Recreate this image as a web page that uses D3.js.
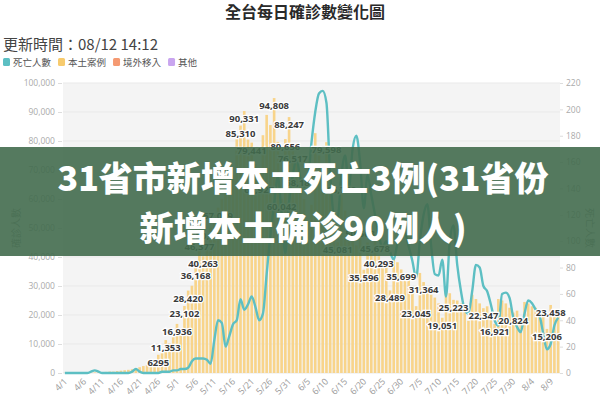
<!DOCTYPE html>
<html>
<head>
<meta charset="utf-8">
<script src="https://cdn.jsdelivr.net/npm/d3@7"></script>
<style>
  body { margin: 0; background: #fff; }
  svg { display: block; font-family: "Noto Sans CJK TC", "Noto Sans", sans-serif; }
</style>
</head>
<body>
<div id="chart"></div>
<script>
const WIDTH = 600;
const HEIGHT = 402;

const LEFT = 63;
const RIGHT = 560;
const TOP = 83;
const BOTTOM = 373;

// daily local cases 4/1 .. 8/11
const CASES = [
  40, 50, 55, 90, 70, 80, 120, 150, 200, 250,
  280, 380, 500, 480, 650, 800, 950, 1100, 1300, 1600,
  2000, 2400, 2700, 3000, 3500, 6295, 7800, 11353, 10200, 13000,
  16936, 15100, 23102, 28420, 30100, 36168, 46377, 40263, 43200, 50054,
  54600, 57039, 60100, 62800, 65300, 68200, 81000, 85310, 90331, 80500,
  79441, 72000, 65927, 82000, 89000, 85500, 94808, 79700, 60042, 80656,
  88247, 76517, 72000, 68187, 60000, 52000, 58000, 82700, 75000, 70000,
  79598, 65000, 55000, 45081, 65749, 56000, 52000, 48000, 44000, 50563,
  35596, 45000, 42000, 45678, 40293, 38000, 36500, 28489, 39000, 38200,
  35699, 34000, 33000, 30000, 23045, 34500, 31364, 29500, 27000, 26000,
  24000, 19051, 29000, 27500, 25223, 25000, 24000, 23500, 18000, 27000,
  25500, 24000, 22347, 23000, 21000, 16921, 25500, 25000, 24000, 22500,
  20824, 21500, 17500, 24500, 24000, 23000, 22500, 21500, 20500, 15206,
  23458, 22000, 21500
];

// daily deaths, same days
const DEATHS = [
  0, 0, 0, 0, 0, 0, 0, 1, 2, 1,
  0, 0, 0, 0, 0, 0, 0, 0, 1, 3,
  1, 0, 0, 0, 0, 0, 1, 1, 1, 2,
  2, 3, 3, 4, 9, 11, 11, 11, 10, 7,
  25, 40, 38, 20, 28, 37, 40, 56, 48, 52,
  58, 50, 40, 45, 75, 105, 128, 149, 120, 91,
  130, 150, 162, 148, 141, 146, 175, 198, 212, 214,
  205, 150, 120, 118, 150, 165, 140, 170, 180, 160,
  125, 150, 135, 120, 105, 95, 100, 92, 86, 98,
  104, 106, 96, 85, 72, 100, 120, 128, 97, 75,
  74, 86, 58, 100, 112, 82, 62, 48, 45, 62,
  82, 80, 66, 62, 52, 40, 36, 60, 61, 57,
  42, 35, 31, 45, 55, 53, 48, 44, 30, 18,
  22, 36, 42
];

const LABEL_DAYS = [
  '4/26', '4/28', '5/1', '5/3', '5/4', '5/6', '5/7', '5/8', '5/10', '5/12',
  '5/18', '5/19', '5/21', '5/23', '5/27', '5/29', '5/30', '5/31', '6/1', '6/3',
  '6/10', '6/13', '6/14', '6/19', '6/20', '6/23', '6/24', '6/27', '6/30',
  '7/4', '7/6', '7/11', '7/14', '7/22', '7/25', '7/30', '8/8', '8/9'
];

const X_TICKS = [
  '4/1', '4/6', '4/11', '4/16', '4/21', '4/26', '5/1', '5/6', '5/11', '5/16',
  '5/21', '5/26', '5/31', '6/5', '6/10', '6/15', '6/20', '6/25', '6/30', '7/5',
  '7/10', '7/15', '7/20', '7/25', '7/30', '8/4', '8/9'
];
const CASE_TICKS = [0, 10000, 20000, 30000, 40000, 50000, 60000, 70000, 80000, 90000, 100000];
const DEATH_TICKS = [0, 20, 40, 60, 80, 100, 120, 140, 160, 180, 200, 220];

const LEGEND = [
  { name: '死亡人數', color: '#5dbfc3' },
  { name: '本土案例', color: '#f7cb6e' },
  { name: '境外移入', color: '#f59a72' },
  { name: '其他', color: '#c9a5ef' }
];

const BANNER_LINES = ['31省市新增本土死亡3例(31省份', '新增本土确诊90例人)'];

const fmtDay = d3.utcFormat('%-m/%-d');
const days = d3.utcDay.range(new Date(Date.UTC(2022, 3, 1)), new Date(Date.UTC(2022, 7, 12)))
  .map(fmtDay);
const rows = days.map((day, i) => ({ day, cases: CASES[i], deaths: DEATHS[i] }));

const svg = d3.select('#chart').append('svg')
  .attr('width', WIDTH)
  .attr('height', HEIGHT);

const x = d3.scaleBand()
  .domain(days)
  .range([LEFT, RIGHT])
  .paddingInner(0.3)
  .paddingOuter(0.15);

const yCases = d3.scaleLinear()
  .domain([0, 100000])
  .range([BOTTOM, TOP]);

const yDeaths = d3.scaleLinear()
  .domain([0, 220])
  .range([BOTTOM, TOP]);

const mid = d => x(d) + x.bandwidth() / 2;

// title + update time
svg.append('text')
  .attr('x', 305).attr('y', 18)
  .attr('text-anchor', 'middle')
  .attr('font-size', 16).attr('font-weight', 600)
  .attr('fill', '#2a2a2a')
  .text('全台每日確診數變化圖');

svg.append('text')
  .attr('x', 3).attr('y', 50)
  .attr('font-size', 15)
  .attr('fill', '#444')
  .text('更新時間：08/12 14:12');

// legend
const legend = svg.append('g').attr('transform', 'translate(3,62)');
let lx = 0;
LEGEND.forEach(item => {
  const g = legend.append('g').attr('transform', `translate(${lx},0)`);
  g.append('rect')
    .attr('x', 0).attr('y', -4)
    .attr('width', 7).attr('height', 8)
    .attr('rx', 1.5)
    .attr('fill', item.color);
  const t = g.append('text')
    .attr('x', 10).attr('y', 3.5)
    .attr('font-size', 9.5)
    .attr('fill', '#555')
    .text(item.name);
  lx += 10 + t.node().getComputedTextLength() + 7;
});

// plot background and grid
svg.append('rect')
  .attr('x', LEFT).attr('y', TOP)
  .attr('width', RIGHT - LEFT).attr('height', BOTTOM - TOP)
  .attr('fill', '#f4f4f4');

svg.append('g')
  .selectAll('line')
  .data(CASE_TICKS)
  .join('line')
  .attr('x1', LEFT).attr('x2', RIGHT)
  .attr('y1', d => yCases(d)).attr('y2', d => yCases(d))
  .attr('stroke', '#e9e9e9');

// y axes
const leftAxis = svg.append('g')
  .attr('transform', `translate(${LEFT - 1},0)`)
  .call(d3.axisLeft(yCases).tickValues(CASE_TICKS).tickFormat(d3.format(',')).tickSize(4).tickPadding(3));

const rightAxis = svg.append('g')
  .attr('transform', `translate(${RIGHT},0)`)
  .call(d3.axisRight(yDeaths).tickValues(DEATH_TICKS).tickSize(3).tickPadding(3));

[leftAxis, rightAxis].forEach(ax => {
  ax.select('.domain').remove();
  ax.selectAll('line').attr('stroke', '#ddd');
  ax.selectAll('text').attr('fill', '#aaa').attr('font-size', 8.5)
    .attr('font-family', '"Open Sans", "Noto Sans", sans-serif');
});

// x labels, rotated
svg.append('g')
  .selectAll('text')
  .data(X_TICKS)
  .join('text')
  .attr('transform', d => `translate(${Math.round(mid(d)) + 3},${BOTTOM + 9}) rotate(-45)`)
  .attr('text-anchor', 'end')
  .attr('font-size', 9)
  .attr('font-family', '"Open Sans", "Noto Sans", sans-serif')
  .attr('fill', '#999')
  .text(d => d);

svg.append('text')
  .attr('transform', `translate(20,${(TOP + BOTTOM) / 2}) rotate(-90)`)
  .attr('text-anchor', 'middle')
  .attr('font-size', 10)
  .attr('fill', '#999')
  .text('確診人數');

svg.append('text')
  .attr('transform', `translate(586,${(TOP + BOTTOM) / 2}) rotate(90)`)
  .attr('text-anchor', 'middle')
  .attr('font-size', 10)
  .attr('fill', '#999')
  .text('死亡人數');

// bars
svg.append('g')
  .selectAll('rect')
  .data(rows)
  .join('rect')
  .attr('x', d => x(d.day))
  .attr('width', x.bandwidth())
  .attr('y', d => yCases(d.cases))
  .attr('height', d => BOTTOM - yCases(d.cases))
  .attr('fill', '#f8d48a');

// deaths line
const line = d3.line()
  .x(d => mid(d.day))
  .y(d => yDeaths(d.deaths))
  .curve(d3.curveMonotoneX);

svg.append('path')
  .datum(rows)
  .attr('d', line)
  .attr('fill', 'none')
  .attr('stroke', '#5dbfc3')
  .attr('stroke-width', 2.4);

// value labels
svg.append('g')
  .selectAll('text')
  .data(rows.filter(d => LABEL_DAYS.includes(d.day)))
  .join('text')
  .attr('x', d => mid(d.day))
  .attr('y', d => yCases(d.cases) + 11)
  .attr('text-anchor', 'middle')
  .attr('font-size', 9.5)
  .attr('font-weight', 700)
  .attr('font-family', '"Open Sans", "Noto Sans", sans-serif')
  .attr('fill', '#3a3a3a')
  .attr('stroke', '#fff')
  .attr('stroke-width', 2.5)
  .attr('paint-order', 'stroke')
  .text(d => d.cases >= 10000 ? d3.format(',')(d.cases) : d.cases);

// overlay banner
svg.append('rect')
  .attr('x', 0).attr('y', 147)
  .attr('width', WIDTH).attr('height', 109)
  .attr('fill', '#436c4e')
  .attr('opacity', 0.9);

svg.append('g')
  .selectAll('text')
  .data(BANNER_LINES)
  .join('text')
  .attr('x', 303)
  .attr('y', (d, i) => 191 + i * 50)
  .attr('text-anchor', 'middle')
  .attr('font-family', '"Noto Sans CJK SC", sans-serif')
  .attr('font-size', 34)
  .attr('font-weight', 900)
  .attr('fill', '#fff')
  .text(d => d);
</script>
</body>
</html>
